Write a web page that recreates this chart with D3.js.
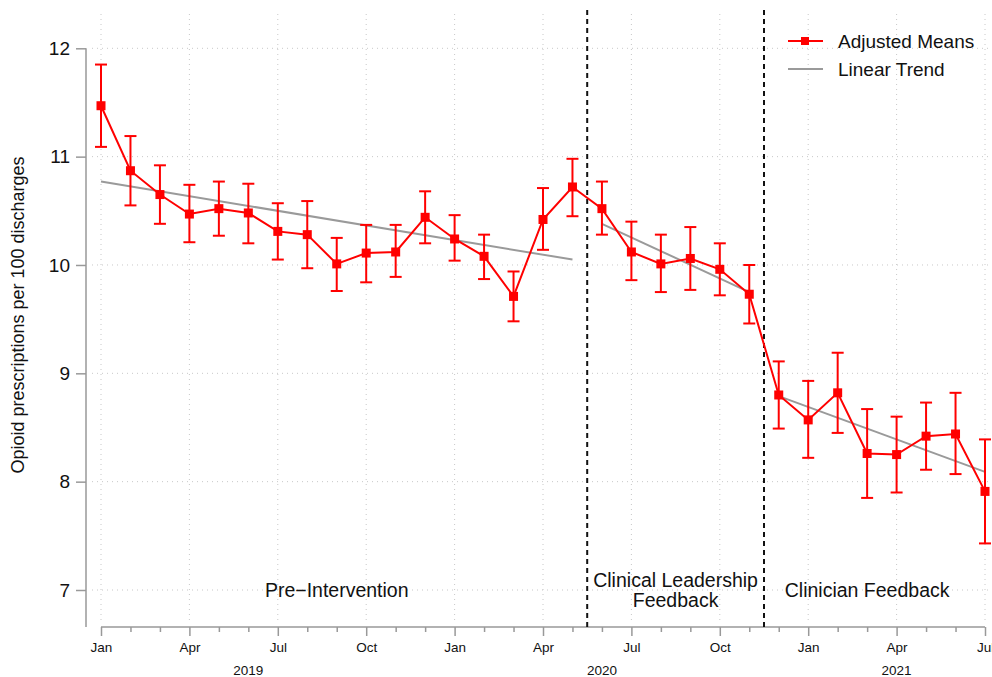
<!DOCTYPE html>
<html><head><meta charset="utf-8">
<script src="https://cdn.jsdelivr.net/npm/d3@7"></script>
<style>body{margin:0;background:#fff}svg{display:block;font-family:"Liberation Sans",Arial,Helvetica,sans-serif}</style>
</head><body><svg id="c" width="992" height="677"></svg>
<script>
const months = ["Jan","Feb","Mar","Apr","May","Jun","Jul","Aug","Sep","Oct","Nov","Dec",
  "Jan","Feb","Mar","Apr","May","Jun","Jul","Aug","Sep","Oct","Nov","Dec",
  "Jan","Feb","Mar","Apr","May","Jun","Jul"];
const means = [11.47,10.87,10.65,10.47,10.52,10.48,10.31,10.28,10.01,10.11,10.12,10.44,10.24,10.08,9.71,10.42,10.72,
  10.52,10.12,10.01,10.06,9.96,9.73,
  8.80,8.57,8.82,8.26,8.25,8.42,8.44,7.91];
const upper = [11.85,11.19,10.92,10.74,10.77,10.75,10.57,10.59,10.25,10.37,10.37,10.68,10.46,10.28,9.94,10.71,10.98,
  10.77,10.40,10.28,10.35,10.20,10.00,
  9.11,8.93,9.19,8.67,8.60,8.73,8.82,8.39];
const lower = [11.09,10.55,10.38,10.21,10.27,10.20,10.05,9.97,9.76,9.84,9.89,10.20,10.04,9.87,9.48,10.14,10.45,
  10.28,9.86,9.75,9.77,9.72,9.46,
  8.49,8.22,8.45,7.85,7.90,8.11,8.07,7.43];
const trendSegments = [[0,16,10.77,10.05],[17,22,10.38,9.75],[23,30,8.79,8.09]];
const yTicks = [7,8,9,10,11,12];
const majorTicks = [0,3,6,9,12,15,18,21,24,27,30];
const yearLabels = [["2019",5],["2020",17],["2021",27]];
const phaseBreaks = [16.5,22.5];
const phaseLabels = [[["Pre\u2212Intervention"],8],[["Clinical Leadership","Feedback"],19.5],[["Clinician Feedback"],26]];

const svg = d3.select("#c");
const x = d3.scaleLinear().domain([0,30]).range([101,985]);
const y = d3.scaleLinear().domain([7,12]).range([590,48.3]);
const axisY = 627, axisX = 86;

// grid
svg.append("g").selectAll("line").data(yTicks).join("line")
  .attr("x1",92).attr("x2",992).attr("y1",d=>y(d)).attr("y2",d=>y(d))
  .attr("stroke","#c8c8c8").attr("stroke-width",1).attr("stroke-dasharray","1,4");
svg.append("g").selectAll("line").data(majorTicks).join("line")
  .attr("x1",d=>x(d)).attr("x2",d=>x(d)).attr("y1",14).attr("y2",620)
  .attr("stroke","#c8c8c8").attr("stroke-width",1).attr("stroke-dasharray","1,4");

// y axis
const ya = svg.append("g").attr("transform",`translate(${axisX},0)`)
  .call(d3.axisLeft(y).tickValues(yTicks).tickSize(10).tickPadding(6).tickFormat(d3.format("d")));
ya.select(".domain").remove();
ya.append("line").attr("x1",0).attr("x2",0).attr("y1",y(12)).attr("y2",axisY);
ya.selectAll("line").attr("stroke","#999").attr("stroke-width",1.5);
ya.selectAll("text").attr("font-size",19).attr("fill","#111").attr("font-family","Liberation Sans, Arial, sans-serif");

// x axis
const xa = svg.append("g").attr("transform",`translate(0,${axisY})`);
xa.call(d3.axisBottom(x).tickValues(d3.range(0,31)).tickSize(5).tickFormat(""));
xa.select(".domain").attr("d",`M${x(0)},0H${x(30)}`).attr("stroke","#999").attr("stroke-width",1.5);
xa.selectAll(".tick line").attr("stroke","#999").attr("stroke-width",1.5)
  .attr("y2",d=>majorTicks.includes(d)?9:5);
xa.selectAll(".tick").filter(d=>majorTicks.includes(d)).append("text")
  .attr("y",25).attr("text-anchor","middle").attr("font-size",13.5).attr("fill","#111")
  .attr("font-family","Liberation Sans, Arial, sans-serif").text(d=>months[d]);
svg.append("g").selectAll("text").data(yearLabels).join("text")
  .attr("x",d=>x(d[1])).attr("y",675).attr("text-anchor","middle").attr("font-size",13.5).attr("fill","#111")
  .text(d=>d[0]);

// y title
svg.append("text").attr("transform","translate(24,315) rotate(-90)").attr("text-anchor","middle")
  .attr("font-size",18).attr("fill","#111").text("Opioid prescriptions per 100 discharges");

// phase breaks
svg.append("g").selectAll("line").data(phaseBreaks).join("line")
  .attr("x1",d=>x(d)).attr("x2",d=>x(d)).attr("y1",10).attr("y2",axisY)
  .attr("stroke","#111").attr("stroke-width",2).attr("stroke-dasharray","5,4");

// phase labels
const pl = svg.append("g").selectAll("text").data(phaseLabels).join("text")
  .attr("x",d=>x(d[1])).attr("y",d=>d[0].length>1?587:597).attr("text-anchor","middle")
  .attr("font-size",19.5).attr("fill","#111");
pl.each(function(d){
  const t=d3.select(this);
  d[0].forEach((s,i)=>t.append("tspan").attr("x",x(d[1])).attr("dy",i?20:0).text(s));
});

// trend
svg.append("g").selectAll("line").data(trendSegments).join("line")
  .attr("x1",d=>x(d[0])).attr("x2",d=>x(d[1])).attr("y1",d=>y(d[2])).attr("y2",d=>y(d[3]))
  .attr("stroke","#9a9a9a").attr("stroke-width",2);

// error bars
const idx = d3.range(means.length);
const eb = svg.append("g").attr("stroke","#f00").attr("stroke-width",2).attr("fill","none");
idx.forEach(i=>{
  eb.append("line").attr("x1",x(i)).attr("x2",x(i)).attr("y1",y(upper[i])).attr("y2",y(lower[i]));
  eb.append("line").attr("x1",x(i)-6).attr("x2",x(i)+6).attr("y1",y(upper[i])).attr("y2",y(upper[i]));
  eb.append("line").attr("x1",x(i)-6).attr("x2",x(i)+6).attr("y1",y(lower[i])).attr("y2",y(lower[i]));
});

// means line
svg.append("path").datum(idx).attr("fill","none").attr("stroke","#f00").attr("stroke-width",2)
  .attr("d",d3.line().x(i=>x(i)).y(i=>y(means[i])));
svg.append("g").selectAll("rect").data(idx).join("rect")
  .attr("x",i=>x(i)-4.5).attr("y",i=>y(means[i])-4.5).attr("width",9).attr("height",9).attr("fill","#f00");

// legend
const lg = svg.append("g");
lg.append("line").attr("x1",788).attr("x2",823).attr("y1",41).attr("y2",41).attr("stroke","#f00").attr("stroke-width",2);
lg.append("rect").attr("x",801).attr("y",37).attr("width",8).attr("height",8).attr("fill","#f00");
lg.append("line").attr("x1",788).attr("x2",823).attr("y1",69).attr("y2",69).attr("stroke","#9a9a9a").attr("stroke-width",2);
lg.append("text").attr("x",838).attr("y",48).attr("font-size",19).attr("fill","#111").text("Adjusted Means");
lg.append("text").attr("x",838).attr("y",76).attr("font-size",19).attr("fill","#111").text("Linear Trend");
</script></body></html>
